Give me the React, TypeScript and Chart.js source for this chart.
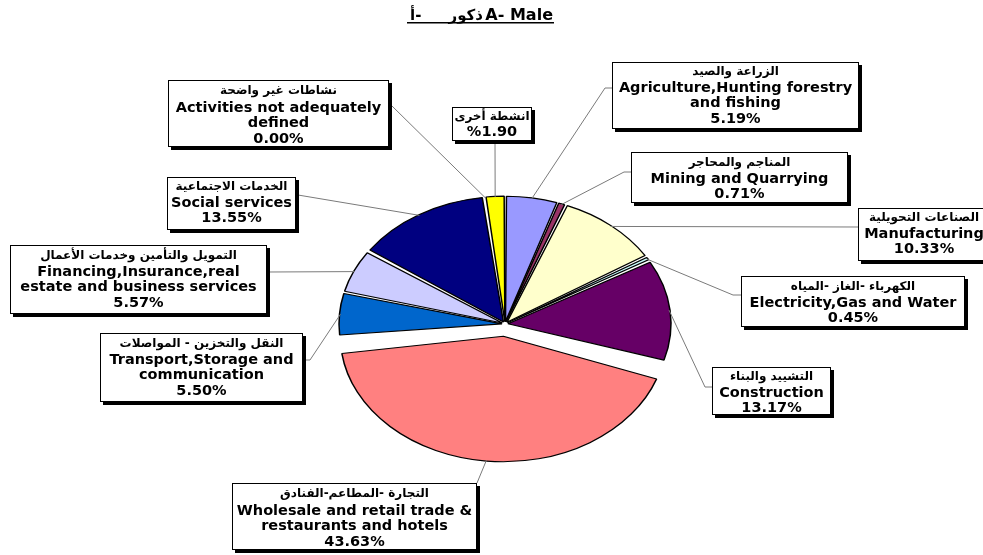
import React, { useEffect, useRef } from "react";
import { Chart, registerables } from "chart.js";

Chart.register(...registerables);

// ---------- data ----------
const categories = [
  "Agriculture,Hunting forestry and fishing",
  "Mining and Quarrying",
  "Manufacturing",
  "Electricity,Gas and Water",
  "Construction",
  "Wholesale and retail trade & restaurants and hotels",
  "Transport,Storage and communication",
  "Financing,Insurance,real estate and business services",
  "Social services",
  "Activities not adequately defined",
  "Other activities",
];
const arabicLabels = [
  "الزراعة والصيد",
  "المناجم والمحاجر",
  "الصناعات التحويلية",
  "الكهرباء -الغاز -المياه",
  "التشييد والبناء",
  "التجارة -المطاعم-الفنادق",
  "النقل والتخزين - المواصلات",
  "التمويل والتأمين وخدمات الأعمال",
  "الخدمات الاجتماعية",
  "نشاطات غير واضحة",
  "انشطة أخرى",
];
const englishLines: string[][] = [
  ["Agriculture,Hunting forestry", "and fishing"],
  ["Mining and Quarrying"],
  ["Manufacturing"],
  ["Electricity,Gas and Water"],
  ["Construction"],
  ["Wholesale and retail trade &", "restaurants and hotels"],
  ["Transport,Storage and", "communication"],
  ["Financing,Insurance,real", "estate and business services"],
  ["Social services"],
  ["Activities not adequately", "defined"],
  [],
];
const shares = [5.19, 0.71, 10.33, 0.45, 13.17, 43.63, 5.5, 5.57, 13.55, 0.0, 1.9];
const percentPrefixed = [false, false, false, false, false, false, false, false, false, false, true];
const colors = [
  "#9999FF",
  "#993366",
  "#FFFFCC",
  "#CCFFFF",
  "#660066",
  "#FF8080",
  "#0066CC",
  "#CCCCFF",
  "#000080",
  "#FF00FF",
  "#FFFF00",
];
// Chart.js moves an arc by offset/4 pixels
const explode = [12, 12, 12, 12, 12, 64, 12, 12, 12, 12, 12];
const SPACING = 4;
const RADIUS = 163;

// ---------- layout (label boxes) ----------
type Box = {
  x: number; y: number; w: number; h: number;
  cx?: number; arY: number; enY: number;
  elbow?: [number, number]; attach: [number, number];
};
const boxes: Box[] = [
  { x: 612, y: 62, w: 247, h: 67, arY: 72, enY: 88, elbow: [605, 88], attach: [612, 88] },
  { x: 631, y: 152, w: 217, h: 51, arY: 163, enY: 179, elbow: [624, 172], attach: [631, 172] },
  { x: 858, y: 208, w: 132, h: 53, cx: 924, arY: 218, enY: 234, attach: [858, 227] },
  { x: 741, y: 276, w: 224, h: 51, arY: 287, enY: 303, elbow: [733, 295], attach: [741, 295] },
  { x: 712, y: 367, w: 119, h: 48, arY: 377, enY: 393, elbow: [705, 387], attach: [712, 387] },
  { x: 232, y: 483, w: 245, h: 67, arY: 494, enY: 511, attach: [477, 483] },
  { x: 100, y: 333, w: 203, h: 69, arY: 344, enY: 360, elbow: [310, 360], attach: [303, 360] },
  { x: 10, y: 245, w: 257, h: 69, arY: 256, enY: 272, attach: [268, 272] },
  { x: 167, y: 177, w: 129, h: 53, arY: 187, enY: 203, attach: [298, 195] },
  { x: 168, y: 80, w: 221, h: 67, arY: 91, enY: 108, attach: [392, 106] },
  { x: 452, y: 107, w: 80, h: 34, arY: 117, enY: 132, attach: [495, 141] },
];

const SY = 0.77; // vertical squash of the pie (ellipse)
const EN_FONT = "bold 14.5px 'DejaVu Sans', sans-serif";
const AR_FONT = "bold 12px 'DejaVu Sans', sans-serif";

// keep the visible radius equal for every slice (Chart.js grows exploded arcs)
const radiusFixPlugin = {
  id: "radiusFix",
  afterDatasetsUpdate(chart: any) {
    chart.getDatasetMeta(0).data.forEach((arc: any) => {
      const t = (arc.options.offset || 0) / 4;
      const fix = 1 - Math.sin(Math.min(Math.PI, arc.circumference || 0));
      arc.outerRadius = RADIUS - t * fix - SPACING / 2;
    });
  },
};

const ellipsePlugin = {
  id: "ellipse",
  beforeDatasetsDraw(chart: any) {
    const arc = chart.getDatasetMeta(0).data[0];
    const ctx = chart.ctx;
    ctx.save();
    ctx.translate(arc.x, arc.y);
    ctx.scale(1, SY);
    ctx.translate(-arc.x, -arc.y);
  },
  afterDatasetsDraw(chart: any) {
    chart.ctx.restore();
  },
};

const labelsPlugin = {
  id: "boxLabels",
  afterDraw(chart: any) {
    const ctx: CanvasRenderingContext2D = chart.ctx;
    const meta = chart.getDatasetMeta(0);

    // title
    ctx.save();
    ctx.fillStyle = "#000";
    ctx.textBaseline = "alphabetic";
    ctx.font = "bold 16px 'DejaVu Sans', sans-serif";
    ctx.textAlign = "right";
    ctx.fillText("A- Male", 553, 20);
    ctx.font = "bold 15px 'DejaVu Sans', sans-serif";
    ctx.fillText("ذكور", 483, 20);
    ctx.textAlign = "left";
    ctx.fillText("أ-", 410, 20);
    ctx.fillRect(407, 22, 147, 1.5);
    ctx.restore();

    // leader lines
    ctx.save();
    ctx.strokeStyle = "#7a7a7a";
    ctx.lineWidth = 1;
    meta.data.forEach((arc: any, i: number) => {
      const b = boxes[i];
      if (!b) return;
      const mid = (arc.startAngle + arc.endAngle) / 2;
      const t = (arc.options.offset || 0) / 4;
      const r = RADIUS + t - 1;
      const ax = arc.x + Math.cos(mid) * r;
      const ay = arc.y + Math.sin(mid) * r * SY;
      ctx.beginPath();
      ctx.moveTo(ax, ay);
      if (b.elbow) ctx.lineTo(b.elbow[0], b.elbow[1]);
      ctx.lineTo(b.attach[0], b.attach[1]);
      ctx.stroke();
    });
    ctx.restore();

    // boxes and texts
    boxes.forEach((b, i) => {
      ctx.save();
      ctx.fillStyle = "#000";
      ctx.fillRect(b.x + 3, b.y + 3, b.w, b.h);
      ctx.fillStyle = "#fff";
      ctx.fillRect(b.x, b.y, b.w, b.h);
      ctx.strokeStyle = "#000";
      ctx.lineWidth = 1;
      ctx.strokeRect(b.x + 0.5, b.y + 0.5, b.w - 1, b.h - 1);

      const cx = b.cx ?? b.x + b.w / 2;
      ctx.fillStyle = "#000";
      ctx.textAlign = "center";
      ctx.textBaseline = "middle";
      ctx.font = AR_FONT;
      ctx.direction = "rtl";
      ctx.fillText(arabicLabels[i], cx, b.arY);
      ctx.direction = "ltr";
      ctx.font = EN_FONT;
      const lines = [...englishLines[i]];
      const v = shares[i].toFixed(2);
      lines.push(percentPrefixed[i] ? "%" + v : v + "%");
      lines.forEach((s, k) => ctx.fillText(s, cx, b.enY + k * 15.6));
      ctx.restore();
    });
  },
};

export default function App() {
  const ref = useRef<HTMLCanvasElement | null>(null);
  useEffect(() => {
    if (!ref.current) return;
    const chart = new Chart(ref.current, {
      type: "pie",
      data: {
        labels: categories,
        datasets: [
          {
            data: shares,
            backgroundColor: colors,
            borderColor: "#000",
            borderWidth: 1.5,
            offset: explode,
            spacing: SPACING,
            radius: RADIUS,
            clip: false,
          } as any,
        ],
      },
      options: {
        responsive: false,
        animation: false,
        events: [],
        layout: { padding: { left: 27, right: 0, top: 93, bottom: 0 } },
        plugins: {
          legend: { display: false },
          tooltip: { enabled: false },
          title: { display: false },
        },
      } as any,
      plugins: [radiusFixPlugin, ellipsePlugin, labelsPlugin],
    });
    return () => chart.destroy();
  }, []);
  return (
    <div style={{ position: "fixed", left: 0, top: 0, width: 983, height: 555, background: "#fff" }}>
      <canvas ref={ref} width={983} height={555} style={{ width: 983, height: 555, display: "block" }} />
    </div>
  );
}
